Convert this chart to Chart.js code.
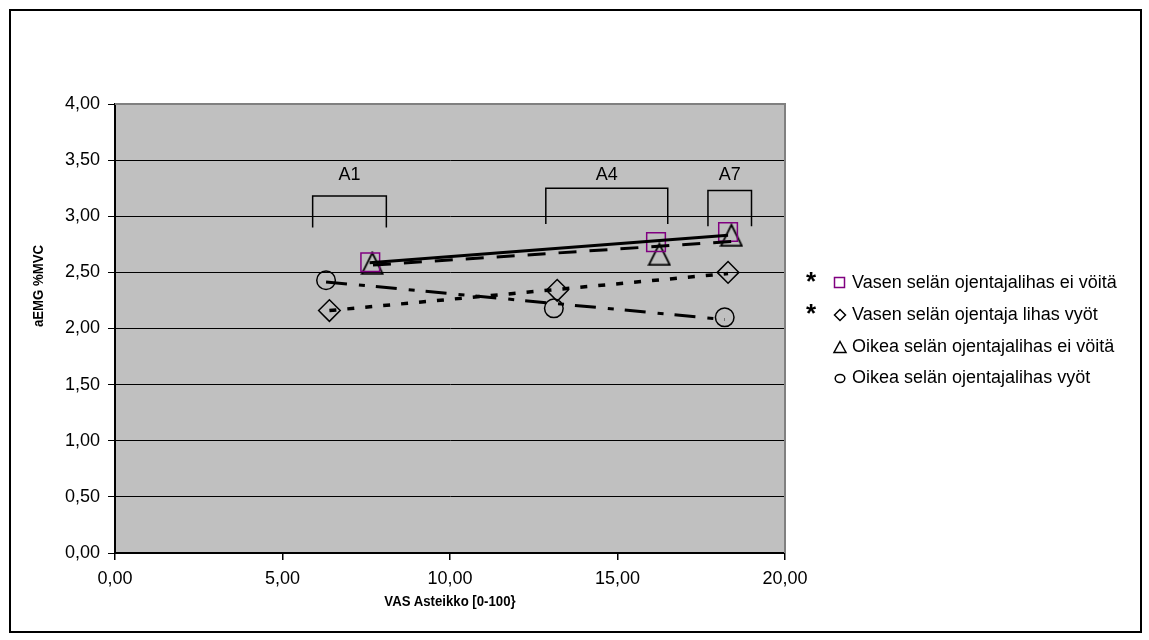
<!DOCTYPE html>
<html>
<head>
<meta charset="utf-8">
<script src="https://cdn.jsdelivr.net/npm/chart.js@4/dist/chart.umd.min.js"></script>
<style>
  html, body { margin: 0; padding: 0; background: #ffffff; }
  #wrap { position: relative; width: 1149px; height: 640px; overflow: hidden; font-family: "Liberation Sans", Arial, sans-serif; }
  #frame { position: absolute; left: 9px; top: 9px; width: 1133px; height: 624px; border: 2px solid #000; box-sizing: border-box; pointer-events: none; }
  canvas { position: absolute; left: 0; top: 0; }
  .title { position: absolute; font-weight: bold; font-size: 15px; color: #000; white-space: nowrap; }
  #xtitle { left: 450px; top: 600px; transform: translate(-50%, -50%) scaleX(0.88); }
  #ytitle { left: 37px; top: 286px; transform: translate(-50%, -50%) rotate(-90deg) scaleX(0.88); }
  .leg { position: absolute; left: 0; height: 24px; width: 400px; font-size: 18px; color: #000; white-space: nowrap; }
  .leg .star { position: absolute; left: 806px; top: -1px; font-size: 26px; font-weight: bold; line-height: 24px; }
  .leg svg { position: absolute; left: 832px; top: 6px; }
  .leg .txt { position: absolute; left: 852px; top: 0; line-height: 24px; }
</style>
</head>
<body>
<div id="wrap">
  <canvas id="c" width="1149" height="640"></canvas>
  <div id="frame"></div>
  <div class="title" id="xtitle">VAS Asteikko [0-100}</div>
  <div class="title" id="ytitle">aEMG %MVC</div>
  <div id="legend"></div>
</div>
<script>
// ---- data ----
const seriesNames = [
  "Vasen selän ojentajalihas ei vöitä",
  "Vasen selän ojentaja lihas vyöt",
  "Oikea selän ojentajalihas ei vöitä",
  "Oikea selän ojentajalihas vyöt"
];
const legendStars = [true, true, false, false];

const squareX   = [7.62, 16.15, 18.30];
const squareY   = [2.59, 2.77, 2.86];
const diamondX  = [6.40, 13.20, 18.30];
const diamondY  = [2.16, 2.34, 2.50];
const triangleX = [7.68, 16.25, 18.40];
const triangleY = [2.58, 2.66, 2.83];
const circleX   = [6.30, 13.10, 18.20];
const circleY   = [2.43, 2.18, 2.10];

// linear trend lines (end points)
const trendSquareX   = [7.60, 18.30];
const trendSquareY   = [2.585, 2.83];
const trendDiamondX  = [6.40, 18.30];
const trendDiamondY  = [2.16, 2.49];
const trendTriangleX = [7.70, 18.40];
const trendTriangleY = [2.565, 2.775];
const trendCircleX   = [6.30, 18.20];
const trendCircleY   = [2.415, 2.08];

// bracket annotations
const bracketLabels = ["A1", "A4", "A7"];
const bracketFrom   = [5.90, 12.86, 17.70];
const bracketTo     = [8.10, 16.50, 19.00];
const bracketTop    = [3.18, 3.25, 3.23];
const bracketBottom = [2.90, 2.93, 2.91];
const bracketLabelY = 3.37;

const xTicks = [0, 5, 10, 15, 20];
const yTicks = [0, 0.5, 1, 1.5, 2, 2.5, 3, 3.5, 4];

// ---- helpers ----
const pts = (xs, ys) => xs.map((x, i) => ({x: x, y: ys[i]}));
const fmt = v => Number(v).toFixed(2).replace('.', ',');

function triangleImage() {
  const c = document.createElement('canvas');
  c.width = 24; c.height = 24;
  const g = c.getContext('2d');
  g.strokeStyle = '#000'; g.lineWidth = 1.8;
  g.beginPath();
  g.moveTo(12, 1.5); g.lineTo(22.5, 22.5); g.lineTo(1.5, 22.5); g.closePath();
  g.stroke();
  return c;
}

const markerBase = { showLine: false, backgroundColor: 'rgba(0,0,0,0)', pointBorderWidth: 1.5, pointHoverRadius: 10 };
const trendBase = { showLine: true, pointRadius: 0, pointHoverRadius: 0, borderColor: '#000', backgroundColor: '#000', fill: false, borderCapStyle: 'butt' };

const datasets = [
  Object.assign({}, trendBase, { label: 't1', data: pts(trendSquareX, trendSquareY), borderWidth: 3 }),
  Object.assign({}, trendBase, { label: 't3', data: pts(trendTriangleX, trendTriangleY), borderWidth: 3, borderDash: [18, 13] }),
  Object.assign({}, trendBase, { label: 't2', data: pts(trendDiamondX, trendDiamondY), borderWidth: 3.5, borderDash: [7, 11] }),
  Object.assign({}, trendBase, { label: 't4', data: pts(trendCircleX, trendCircleY), borderWidth: 3, borderDash: [21, 12, 6, 11] }),
  Object.assign({}, markerBase, { label: seriesNames[0], data: pts(squareX, squareY), pointStyle: 'rect', pointRadius: 13.2, pointBorderColor: '#800080', borderColor: '#800080' }),
  Object.assign({}, markerBase, { label: seriesNames[1], data: pts(diamondX, diamondY), pointStyle: 'rectRot', pointRadius: 10.8, pointBorderColor: '#000', borderColor: '#000' }),
  Object.assign({}, markerBase, { label: seriesNames[2], data: pts(triangleX, triangleY), pointStyle: triangleImage(), pointRadius: 12, pointBorderColor: '#000', borderColor: '#000' }),
  Object.assign({}, markerBase, { label: seriesNames[3], data: pts(circleX, circleY), pointStyle: 'circle', pointRadius: 9.3, pointBorderColor: '#000', borderColor: '#000' })
];

const plotBg = {
  id: 'plotBg',
  beforeDraw(chart) {
    const {ctx, chartArea: a} = chart;
    ctx.save();
    ctx.fillStyle = '#c0c0c0';
    ctx.fillRect(a.left, a.top, a.right - a.left, a.bottom - a.top);
    ctx.restore();
  },
  beforeDatasetsDraw(chart) {
    const {ctx, chartArea: a} = chart;
    ctx.save();
    ctx.strokeStyle = '#808080';
    ctx.lineWidth = 2;
    ctx.beginPath();
    ctx.moveTo(a.left, a.top); ctx.lineTo(a.right, a.top); ctx.lineTo(a.right, a.bottom);
    ctx.stroke();
    ctx.restore();
  }
};

const brackets = {
  id: 'brackets',
  afterDatasetsDraw(chart) {
    const {ctx, scales: {x, y}} = chart;
    ctx.save();
    ctx.strokeStyle = '#000';
    ctx.lineWidth = 1.5;
    ctx.fillStyle = '#000';
    ctx.font = '18px "Liberation Sans", Arial, sans-serif';
    ctx.textAlign = 'center';
    ctx.textBaseline = 'middle';
    bracketLabels.forEach((lab, i) => {
      const x0 = x.getPixelForValue(bracketFrom[i]);
      const x1 = x.getPixelForValue(bracketTo[i]);
      const yt = y.getPixelForValue(bracketTop[i]);
      const yb = y.getPixelForValue(bracketBottom[i]);
      ctx.beginPath();
      ctx.moveTo(x0, yb); ctx.lineTo(x0, yt); ctx.lineTo(x1, yt); ctx.lineTo(x1, yb);
      ctx.stroke();
      ctx.fillText(lab, (x0 + x1) / 2, y.getPixelForValue(bracketLabelY));
    });
    ctx.restore();
  }
};

new Chart(document.getElementById('c'), {
  type: 'scatter',
  data: { datasets: datasets },
  options: {
    responsive: false,
    animation: false,
    layout: { padding: { top: 104, right: 364, left: 0, bottom: 0 } },
    plugins: { legend: { display: false }, tooltip: { enabled: false } },
    scales: {
      x: {
        type: 'linear', min: 0, max: 20,
        afterFit(s) { s.height = 87; },
        afterBuildTicks(s) { s.ticks = xTicks.map(v => ({value: v})); },
        ticks: { callback: fmt, color: '#000', padding: 8, font: { family: '"Liberation Sans", Arial, sans-serif', size: 18 }, maxRotation: 0 },
        grid: { drawOnChartArea: false, drawTicks: true, tickLength: 7, color: '#000', lineWidth: 1.5 },
        border: { display: true, color: '#000', width: 2 }
      },
      y: {
        type: 'linear', min: 0, max: 4,
        afterFit(s) { s.width = 115; },
        afterBuildTicks(s) { s.ticks = yTicks.map(v => ({value: v})); },
        ticks: { callback: fmt, color: '#000', padding: 8, font: { family: '"Liberation Sans", Arial, sans-serif', size: 18 } },
        grid: { color: '#000', lineWidth: 1, drawTicks: true, tickLength: 7 },
        border: { display: true, color: '#000', width: 2 }
      }
    }
  },
  plugins: [plotBg, brackets]
});

// ---- HTML legend ----
const legendTops = [270, 302, 334, 365];
const legendIcons = [
  '<svg width="16" height="14"><rect x="2.5" y="1.5" width="10" height="10" fill="none" stroke="#800080" stroke-width="1.5"/></svg>',
  '<svg width="16" height="14"><polygon points="8,1.5 13.5,7 8,12.5 2.5,7" fill="none" stroke="#000" stroke-width="1.5"/></svg>',
  '<svg width="16" height="14"><polygon points="8,1.5 14,12.5 2,12.5" fill="none" stroke="#000" stroke-width="1.5"/></svg>',
  '<svg width="16" height="14"><ellipse cx="8" cy="7.5" rx="4.8" ry="4" fill="none" stroke="#000" stroke-width="1.5"/></svg>'
];
const legendEl = document.getElementById('legend');
seriesNames.forEach((name, i) => {
  const row = document.createElement('div');
  row.className = 'leg';
  row.style.top = legendTops[i] + 'px';
  row.innerHTML = (legendStars[i] ? '<span class="star">*</span>' : '') + legendIcons[i] + '<span class="txt"></span>';
  row.querySelector('.txt').textContent = name;
  legendEl.appendChild(row);
});
</script>
</body>
</html>
